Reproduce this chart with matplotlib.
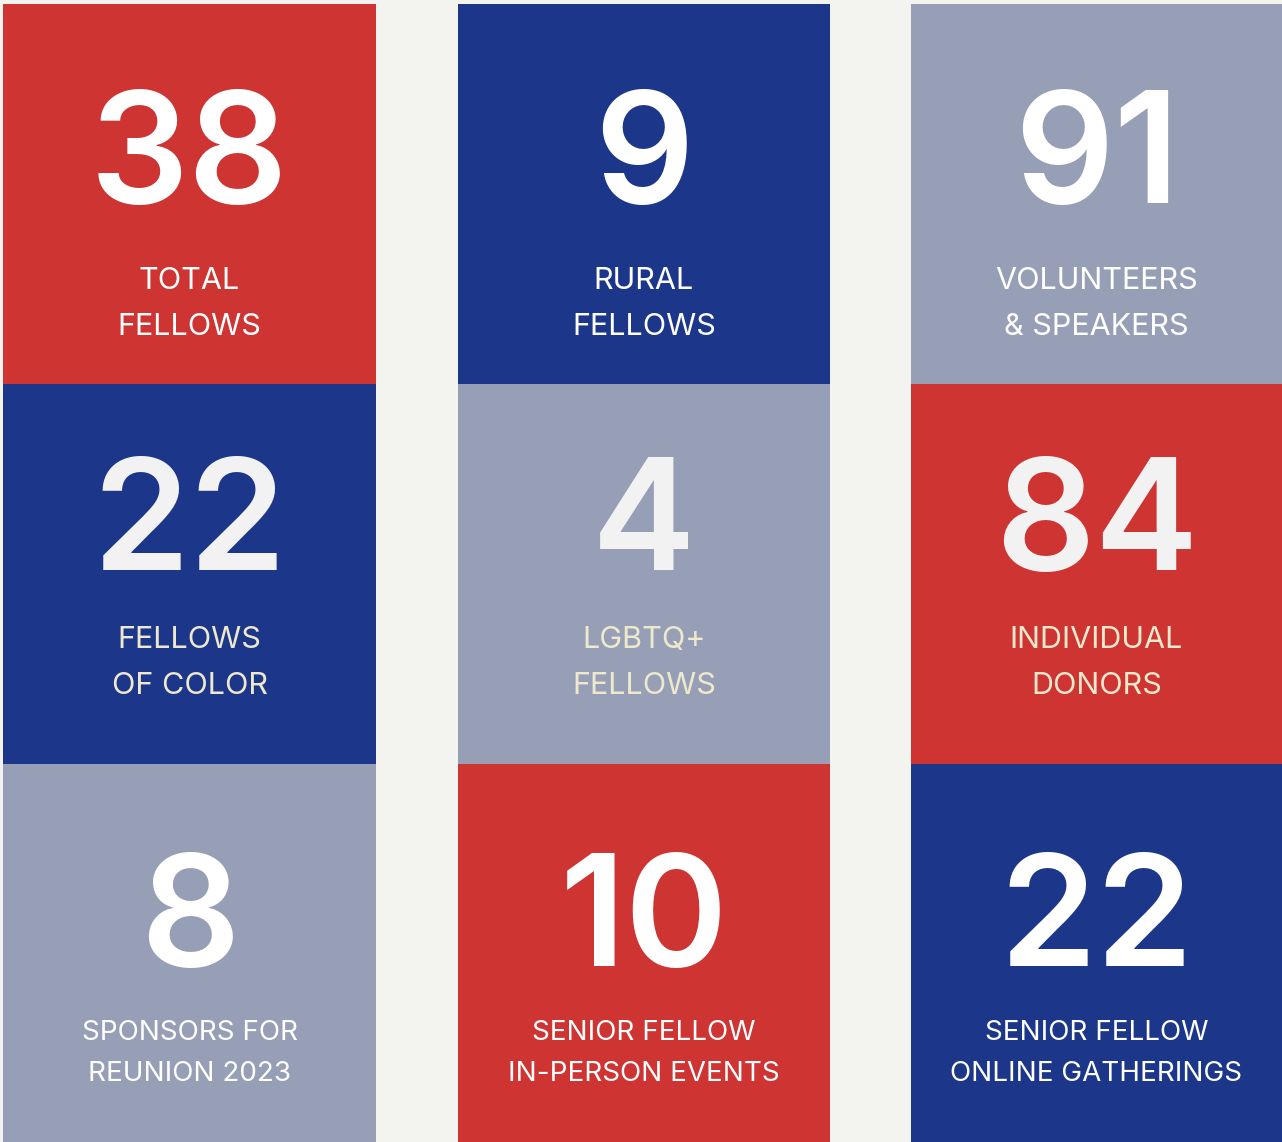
import matplotlib.pyplot as plt

# tile data, read left to right, top to bottom
numbers = ['38', '9', '91',
           '22', '4', '84',
           '8', '10', '22']
labels = ['TOTAL\nFELLOWS', 'RURAL\nFELLOWS', 'VOLUNTEERS\n& SPEAKERS',
          'FELLOWS\nOF COLOR', 'LGBTQ+\nFELLOWS', 'INDIVIDUAL\nDONORS',
          'SPONSORS FOR\nREUNION 2023', 'SENIOR FELLOW\nIN-PERSON EVENTS',
          'SENIOR FELLOW\nONLINE GATHERINGS']

RED = '#cd3432'
BLUE = '#1c378a'
GREY = '#979fb7'
BG = '#f3f4ef'
tile_colors = [RED, BLUE, GREY,
               BLUE, GREY, RED,
               GREY, RED, BLUE]

# layout in pixels
col_left = [3, 458, 911]
col_right = [376, 830, 1282]
row_top = [4, 384, 764]
row_bottom = [384, 764, 1142]
num_base = [203, 570, 966]
lab_base = [(289, 335), (648, 694), (1040, 1081)]
lab_size = [22, 22, 20]
lab_color = ['white', '#eee8cc', 'white']
num_color = ['white', '#f2f2f2', 'white']

fig = plt.figure(figsize=(12.82, 11.42), dpi=100)
fig.patch.set_facecolor(BG)
ax = fig.add_axes([0, 0, 1, 1])
ax.set_xlim(0, 1282)
ax.set_ylim(1142, 0)
ax.axis('off')

for i in range(9):
    r, c = divmod(i, 3)
    x0, x1 = col_left[c], col_right[c]
    y0, y1 = row_top[r], row_bottom[r]
    ax.bar((x0 + x1) / 2, y1 - y0, width=x1 - x0, bottom=y0,
           color=tile_colors[i], linewidth=0)
    cx = (x0 + x1) / 2
    ax.text(cx, num_base[r], numbers[i], ha='center', va='baseline',
            fontsize=112, fontweight='semibold', family='Inter',
            color=num_color[r])
    for line, yb in zip(labels[i].split('\n'), lab_base[r]):
        ax.text(cx, yb, line, ha='center', va='baseline',
                fontsize=lab_size[r], fontweight='normal', family='Inter',
                color=lab_color[r])

fig.savefig('out.png', dpi=100, facecolor=BG)
